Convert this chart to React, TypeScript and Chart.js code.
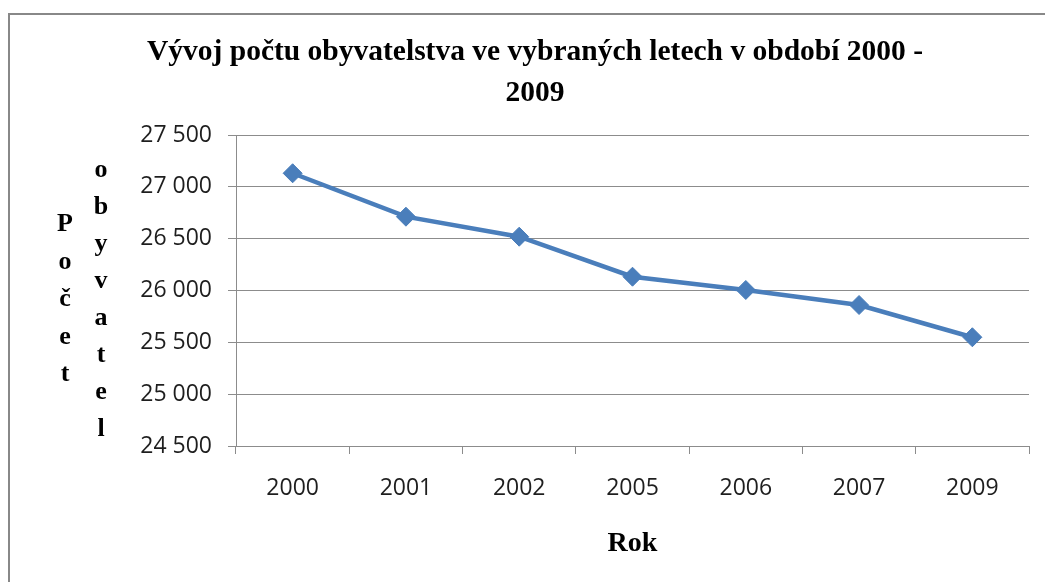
import React, { useEffect, useRef } from "react";
import { Chart, registerables } from "chart.js";

Chart.register(...registerables);

const categories: string[] = ["2000", "2001", "2002", "2005", "2006", "2007", "2009"];
const population: number[] = [27131, 26712, 26519, 26133, 26005, 25860, 25549];
const yMin = 24500;
const yMax = 27500;
const yStep = 500;
const titleLines: string[] = ["Vývoj počtu obyvatelstva ve vybraných letech v období 2000 -", "2009"];
const yTitleColumns: string[][] = [
  ["P", "o", "č", "e", "t"],
  ["o", "b", "y", "v", "a", "t", "e", "l"],
];
const xTitle = "Rok";

const fmt = (v: number) => String(v).replace(/\B(?=(\d{3})+(?!\d))/g, " ");

const decorPlugin = {
  id: "decor",
  beforeDraw(chart: any) {
    const ctx = chart.ctx as CanvasRenderingContext2D;
    ctx.save();
    ctx.fillStyle = "#ffffff";
    ctx.fillRect(0, 0, chart.width, chart.height);
    ctx.fillStyle = "#888888";
    ctx.fillRect(8, 13, chart.width, 2);
    ctx.fillRect(8, 13, 2, chart.height);
    ctx.restore();
  },
  afterDraw(chart: any) {
    const ctx = chart.ctx as CanvasRenderingContext2D;
    ctx.save();
    ctx.fillStyle = "#000000";
    ctx.textAlign = "center";
    ctx.textBaseline = "alphabetic";
    ctx.font = "bold 29.5px 'Liberation Serif', 'Times New Roman', serif";
    const baselines = [60, 101];
    titleLines.forEach((t, i) => ctx.fillText(t, 535, baselines[i]));
    ctx.font = "bold 26px 'Liberation Serif', 'Times New Roman', serif";
    const colX = [65, 101];
    const colStart = [231, 177];
    const colStep = [37.5, 37];
    yTitleColumns.forEach((col, c) => {
      col.forEach((ch, i) => ctx.fillText(ch, colX[c], colStart[c] + i * colStep[c]));
    });
    ctx.restore();
  },
};

export default function App() {
  const ref = useRef<HTMLCanvasElement | null>(null);
  useEffect(() => {
    if (!ref.current) return;
    const chart = new Chart(ref.current, {
      type: "line",
      data: {
        labels: categories,
        datasets: [
          {
            label: "Počet obyvatel",
            data: population,
            borderColor: "#4a7ebb",
            backgroundColor: "#4a7ebb",
            borderWidth: 4.5,
            tension: 0,
            pointStyle: "rectRot",
            pointRadius: 9.5,
            pointBorderWidth: 1,
            pointBackgroundColor: "#4a7ebb",
            pointBorderColor: "#4a7ebb",
          },
        ],
      },
      options: {
        responsive: false,
        animation: false,
        layout: { padding: { left: 0, right: 16, top: 135, bottom: 21 } },
        plugins: {
          legend: { display: false },
          title: { display: false },
          tooltip: { enabled: false },
        },
        scales: {
          x: {
            type: "category",
            offset: true,
            grid: {
              offset: true,
              drawOnChartArea: false,
              drawTicks: true,
              tickLength: 8,
              color: "#8c8c8c",
              lineWidth: 1,
            },
            border: { color: "#8c8c8c", width: 1 },
            ticks: {
              color: "#1e1e1e",
              padding: 21,
              font: { family: "'Open Sans', sans-serif", size: 23 },
              maxRotation: 0,
            },
            title: {
              display: true,
              text: xTitle,
              color: "#000000",
              padding: { top: 0, bottom: 0 },
              font: { family: "'Liberation Serif', 'Times New Roman', serif", size: 28, weight: "bold", lineHeight: 1.2 },
            },
            afterFit: (s: any) => {
              s.height = 115;
            },
          },
          y: {
            min: yMin,
            max: yMax,
            grid: {
              drawOnChartArea: true,
              drawTicks: true,
              tickLength: 8,
              color: "#8c8c8c",
              lineWidth: 1,
            },
            border: { color: "#8c8c8c", width: 1 },
            ticks: {
              stepSize: yStep,
              color: "#1e1e1e",
              padding: 16,
              font: { family: "'Open Sans', sans-serif", size: 23 },
              callback: (v: any) => fmt(Number(v)),
            },
            afterFit: (s: any) => {
              s.width = 236;
            },
          },
        },
      },
      plugins: [decorPlugin],
    } as any);
    return () => chart.destroy();
  }, []);
  return (
    <canvas
      ref={ref}
      width={1045}
      height={582}
      style={{ position: "fixed", left: 0, top: 0, width: 1045, height: 582, display: "block" }}
    />
  );
}
